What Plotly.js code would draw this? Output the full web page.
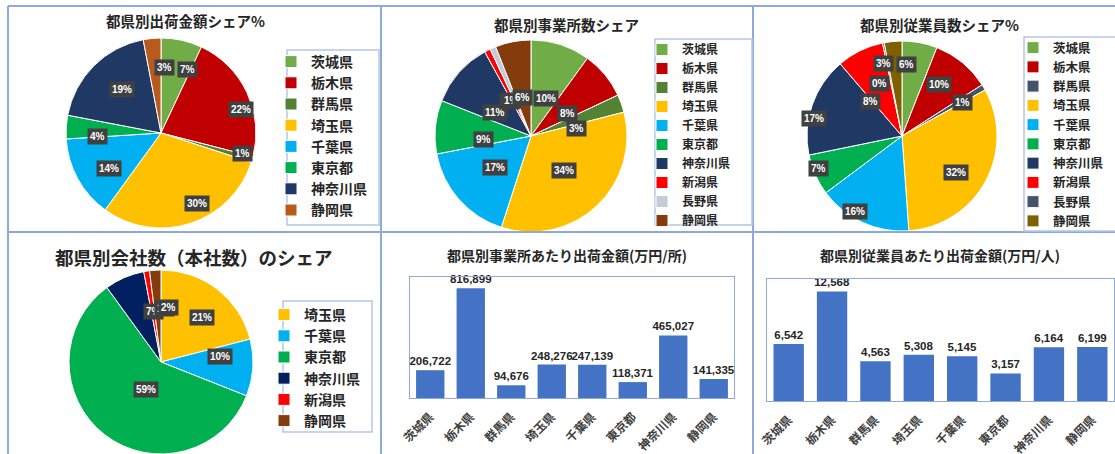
<!DOCTYPE html>
<html>
<head>
<meta charset="utf-8">
<script src="https://cdn.plot.ly/plotly-3.0.1.min.js"></script>
<style>
html,body{margin:0;padding:0;background:#fff;overflow:hidden;}
#chart{width:1115px;height:454px;}
</style>
</head>
<body>
<div id="chart"></div>
<script>
// ---------- data ----------
const prefsA = ['茨城県','栃木県','群馬県','埼玉県','千葉県','東京都','神奈川県','静岡県'];
const shipShare = [7, 22, 1, 30, 14, 4, 19, 3];

const prefsB = ['茨城県','栃木県','群馬県','埼玉県','千葉県','東京都','神奈川県','新潟県','長野県','静岡県'];
const officeShare = [10, 8, 3, 34, 17, 9, 11, 1, 1, 6];
const employeeShare = [6, 10, 1, 32, 16, 7, 17, 8, 0.3, 3];

const prefsC = ['埼玉県','千葉県','東京都','神奈川県','新潟県','静岡県'];
const hqShare = [21, 10, 59, 7, 1, 2];

const barCats = ['茨城県','栃木県','群馬県','埼玉県','千葉県','東京都','神奈川県','静岡県'];
const shipPerOffice = [206722, 816899, 94676, 248276, 247139, 118371, 465027, 141335];
const shipPerEmployee = [6542, 12568, 4563, 5308, 5145, 3157, 6164, 6199];

const titles = ['都県別出荷金額シェア%','都県別事業所数シェア','都県別従業員数シェア%',
  '都県別会社数（本社数）のシェア','都県別事業所あたり出荷金額(万円/所)','都県別従業員あたり出荷金額(万円/人)'];

// ---------- styles ----------
const colorsA = ['#70ad47','#c00000','#548235','#ffc000','#00b0f0','#00b050','#203864','#b85a1e'];
const colorsB = ['#70ad47','#c00000','#548235','#ffc000','#00b0f0','#00b050','#203864','#ff0000','#c3cad8','#843c0c'];
const colorsB3 = ['#70ad47','#c00000','#44546a','#ffc000','#00b0f0','#00b050','#203864','#ff0000','#44546a','#7f6000'];
const colorsC = ['#ffc000','#00b0f0','#00b050','#002060','#ff0000','#843c0c'];

const W = 1115, H = 454;
const FONT = '"Noto Sans CJK JP", "Noto Sans", sans-serif';
const NUMFONT = '"Liberation Sans", Arial, sans-serif';
const px = x => x / W;
const py = y => 1 - y / H;

// label radius factors (style: where the data-label boxes sit, as fraction of radius)
const pies = [
  {labels: prefsA, values: shipShare, colors: colorsA, cx: 161, cy: 133, r: 95, f: 0.78, legend: 'legend'},
  {labels: prefsB, values: officeShare, colors: colorsB, cx: 531, cy: 136, r: 96, f: 0.5, legend: 'legend2'},
  {labels: prefsB, values: employeeShare, colors: colorsB3, cx: 902, cy: 136, r: 95,
   f: [0.86, 0.82, 0.87, 0.8, 0.87, 0.84, 0.84, 0.5, 0.65, 0.86], legend: 'legend3'},
  {labels: prefsC, values: hqShare, colors: colorsC, cx: 161, cy: 362, r: 92, f: 0.5, legend: 'legend4'}
];

const traces = [];
const annotations = [];

pies.forEach((p, k) => {
  // zero-width spaces keep each pie's legend entries separate (pie legends merge equal labels)
  const lbls = p.labels.map(l => l + '\u200b'.repeat(k));
  traces.push({
    type: 'pie', labels: lbls, values: p.values, sort: false, direction: 'clockwise', rotation: 0,
    marker: {colors: p.colors, line: {color: '#ffffff', width: 1}},
    textinfo: 'none', hoverinfo: 'label+percent',
    domain: {x: [px(p.cx - p.r), px(p.cx + p.r)], y: [py(p.cy + p.r), py(p.cy - p.r)]},
    legend: p.legend
  });
  const total = p.values.reduce((a, b) => a + b, 0);
  let cum = 0;
  p.values.forEach((v, i) => {
    const mid = (cum + v / 2) / total * 2 * Math.PI;
    cum += v;
    const f = Array.isArray(p.f) ? p.f[i] : p.f;
    const d = f * p.r;
    annotations.push({
      xref: 'paper', yref: 'paper',
      x: px(p.cx + d * Math.sin(mid)), y: py(p.cy - d * Math.cos(mid)),
      text: Math.round(v / total * 100) + '%', showarrow: false,
      font: {family: NUMFONT, size: 10, color: '#ffffff', weight: 'bold'},
      bgcolor: '#404040', borderpad: 2
    });
  });
});

// bar charts
const barText = {family: NUMFONT, size: 11.5, color: '#262626', weight: 'bold'};
traces.push({
  type: 'bar', x: barCats, y: shipPerOffice, xaxis: 'x', yaxis: 'y',
  marker: {color: '#4472c4'}, texttemplate: '%{y:,}', textposition: 'outside',
  constraintext: 'none', cliponaxis: false, showlegend: false, textfont: barText
});
traces.push({
  type: 'bar', x: barCats, y: shipPerEmployee, xaxis: 'x2', yaxis: 'y2',
  marker: {color: '#4472c4'}, texttemplate: '%{y:,}', textposition: 'outside',
  constraintext: 'none', cliponaxis: false, showlegend: false, textfont: barText
});

// titles
const titlePos = [[185, 20, 14.5], [566, 25, 14.5], [939, 25, 14.5], [194, 257, 18.5], [567, 255, 14], [940, 255, 14]];
titles.forEach((t, i) => {
  annotations.push({
    xref: 'paper', yref: 'paper', x: px(titlePos[i][0]), y: py(titlePos[i][1]),
    text: t, showarrow: false, xanchor: 'center', yanchor: 'middle',
    font: {family: FONT, size: titlePos[i][2], color: '#262626', weight: 'bold'}
  });
});

const lineC = '#8eaadb';
const shapes = [];
function hline(y, x0, x1) { shapes.push({type: 'line', xref: 'paper', yref: 'paper', x0: px(x0), x1: px(x1), y0: py(y), y1: py(y), line: {color: lineC, width: 2}}); }
function vline(x, y0, y1) { shapes.push({type: 'line', xref: 'paper', yref: 'paper', x0: px(x), x1: px(x), y0: py(y0), y1: py(y1), line: {color: lineC, width: 2}}); }
hline(6, 8, 1115); hline(232, 8, 1115);
vline(8, 6, 454); vline(381, 6, 454); vline(753, 6, 454);
function box(x0, y0, x1, y1) { shapes.push({type: 'rect', xref: 'paper', yref: 'paper', x0: px(x0), x1: px(x1), y0: py(y1), y1: py(y0), line: {color: '#b4c7e7', width: 1.5}, fillcolor: 'rgba(0,0,0,0)'}); }
box(287, 50, 379, 225); box(655, 39, 752, 225); box(1024, 37, 1125, 231); box(283, 301, 372, 432);

function leg(x, y, size) {
  return {x: px(x), y: py(y), xanchor: 'left', yanchor: 'top', bgcolor: 'rgba(0,0,0,0)', borderwidth: 0,
    font: {family: FONT, size: size, color: '#262626', weight: 'bold'}};
}

const axisCommon = {showline: true, mirror: true, linecolor: lineC, linewidth: 1, showgrid: false, zeroline: false};
const xTick = {ticks: 'outside', ticklen: 6, tickcolor: 'rgba(0,0,0,0)', tickangle: -45,
  tickfont: {family: FONT, size: 12, color: '#404040', weight: 'bold'}};

const layout = {
  width: W, height: H,
  margin: {l: 0, r: 0, t: 0, b: 0, autoexpand: false},
  paper_bgcolor: '#ffffff', plot_bgcolor: 'rgba(0,0,0,0)',
  showlegend: true,
  legend: leg(271, 46, 14),
  legend2: leg(642, 35, 12),
  legend3: leg(1013, 33, 12.5),
  legend4: leg(264, 299, 14),
  xaxis: Object.assign({}, axisCommon, xTick, {domain: [px(410), px(734)], anchor: 'y'}),
  yaxis: Object.assign({}, axisCommon, {domain: [py(398), py(277)], anchor: 'x', range: [0, 900000], showticklabels: false, ticks: ''}),
  xaxis2: Object.assign({}, axisCommon, xTick, {domain: [px(767), px(1114)], anchor: 'y2'}),
  yaxis2: Object.assign({}, axisCommon, {domain: [py(401), py(279)], anchor: 'x2', range: [0, 14000], showticklabels: false, ticks: ''}),
  bargap: 0.3,
  annotations: annotations,
  shapes: shapes
};

Plotly.newPlot('chart', traces, layout, {staticPlot: true, displayModeBar: false});
</script>
</body>
</html>
